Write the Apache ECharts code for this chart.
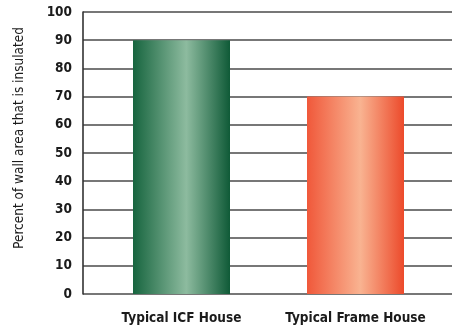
<!DOCTYPE html>
<html>
<head>
<meta charset="utf-8">
<script src="https://cdn.jsdelivr.net/npm/echarts@6/dist/echarts.min.js"></script>
<style>
  html, body { margin: 0; padding: 0; background: #fff; }
  #chart { width: 452px; height: 332px; }
</style>
</head>
<body>
<div id="chart"></div>
<script>
// Share of wall area that is insulated, by house type
const houseTypes = ['Typical ICF House', 'Typical Frame House'];
const insulatedPercent = [90, 70];
const yTicks = { min: 0, max: 100, step: 10 };
const yAxisTitle = 'Percent of wall area that is insulated';

const condensed = '"DejaVu Sans Condensed", "Liberation Sans Narrow", sans-serif';

const gradient = (edgeL, mid, edgeR) => new echarts.graphic.LinearGradient(0, 0, 1, 0, [
  { offset: 0, color: edgeL },
  { offset: 0.55, color: mid },
  { offset: 1, color: edgeR }
]);
const barFills = [
  gradient('#17653f', '#8dbb9f', '#0f5a37'),
  gradient('#f0583a', '#f9b391', '#ec4a2b')
];

const chart = echarts.init(document.getElementById('chart'), null, { renderer: 'canvas' });
chart.setOption({
  backgroundColor: '#ffffff',
  animation: false,
  grid: [
    { left: 83, right: 0, top: 12, bottom: 38 },
    { left: 94.5, right: 9.5, top: 12, bottom: 38 }
  ],
  xAxis: [
    { gridIndex: 0, type: 'value', min: 0, max: 1, show: false },
    {
      gridIndex: 1, type: 'category', data: houseTypes,
      axisLine: { show: false }, axisTick: { show: false },
      axisLabel: {
        interval: 0, margin: 17, color: '#1b1b1b', fontFamily: condensed,
        fontWeight: 'bold', fontSize: 13.5
      }
    }
  ],
  yAxis: [
    {
      gridIndex: 0, type: 'value',
      min: yTicks.min, max: yTicks.max, interval: yTicks.step,
      axisLine: { show: true, lineStyle: { color: '#333', width: 1.6 } },
      axisTick: { show: false },
      splitLine: { show: true, lineStyle: { color: '#4a4a4a', width: 1.6 } },
      axisLabel: {
        margin: 11, color: '#1b1b1b', fontFamily: condensed,
        fontWeight: 'bold', fontSize: 13.5
      },
      name: yAxisTitle, nameLocation: 'middle', nameGap: 57,
      nameTextStyle: {
        color: '#1b1b1b', fontFamily: condensed, fontSize: 13.5,
        padding: [0, 0, 0, 30]
      }
    },
    { gridIndex: 1, type: 'value', min: yTicks.min, max: yTicks.max, show: false }
  ],
  series: [{
    type: 'bar',
    xAxisIndex: 1, yAxisIndex: 1,
    barWidth: 97,
    data: insulatedPercent.map((v, i) => ({ value: v, itemStyle: { color: barFills[i] } }))
  }]
});
</script>
</body>
</html>
